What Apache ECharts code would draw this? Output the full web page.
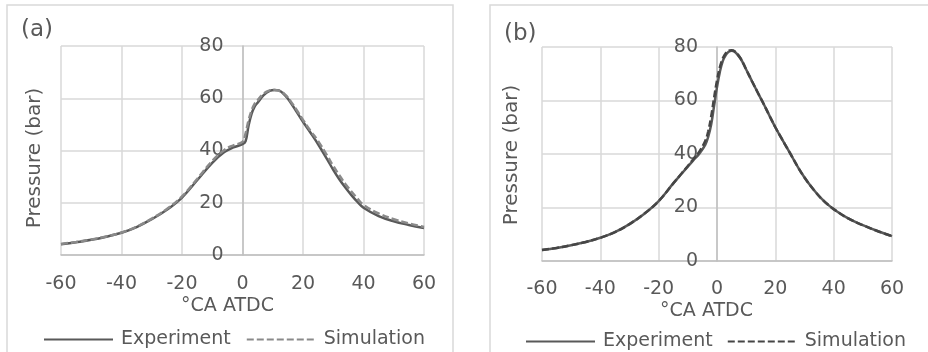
<!DOCTYPE html>
<html>
<head>
<meta charset="utf-8">
<script src="https://cdn.jsdelivr.net/npm/echarts@6/dist/echarts.min.js"></script>
<style>
  html, body { margin: 0; padding: 0; background: #fff; overflow: hidden; }
  #wrap { position: relative; width: 928px; height: 352px; }
  #chartA { position: absolute; left: 0; top: 0; width: 464px; height: 352px; }
  #chartB { position: absolute; left: 464px; top: 0; width: 464px; height: 352px; }
</style>
</head>
<body>
<div id="wrap">
  <div id="chartA"></div>
  <div id="chartB"></div>
</div>
<script>
// Crank angle (°CA ATDC) and cylinder pressure (bar), case (a)
const crankA = [-60, -55, -50, -45, -40, -35, -30, -25, -20, -15, -10, -6, -3, 0, 1, 2, 3, 4, 5, 7, 9, 10.5, 12, 14, 16, 18, 20, 22.5, 25, 28, 30, 32, 34, 36, 38, 40, 45, 50, 55, 60];
const experimentA = [4.1, 4.9, 5.8, 7.0, 8.5, 10.7, 13.7, 17.3, 22.0, 28.6, 35.3, 39.4, 41.2, 42.4, 43.5, 49.5, 54.0, 56.8, 58.3, 61.2, 62.8, 63.2, 63.0, 61.2, 58.2, 54.6, 51.0, 46.8, 42.4, 36.6, 32.6, 29.0, 25.8, 22.9, 20.3, 18.1, 14.9, 12.9, 11.5, 10.3];
const simulationA = [4.2, 5.0, 5.9, 7.1, 8.6, 10.8, 13.9, 17.6, 22.4, 29.1, 36.0, 40.2, 42.0, 43.3, 46.5, 51.5, 55.3, 57.8, 59.2, 61.8, 63.0, 63.2, 62.9, 61.5, 58.7, 55.3, 51.7, 47.5, 43.6, 38.0, 34.1, 30.5, 27.2, 24.3, 21.6, 19.2, 15.9, 13.7, 12.1, 10.7];

// Case (b)
const crankB = [-60, -55, -50, -45, -40, -35, -30, -25, -20, -15, -12, -10, -8, -6, -4, -3, -2, -1, 0, 1, 2, 3, 4, 5, 6, 8, 10, 12, 14, 16, 18, 20, 22, 25, 28, 30, 32, 34, 36, 38, 40, 45, 50, 55, 60];
const experimentB = [4.1, 4.9, 5.9, 7.1, 8.7, 10.8, 13.8, 17.6, 22.4, 29.0, 32.8, 35.3, 37.8, 40.2, 43.5, 46.5, 51.0, 58.0, 65.0, 70.8, 74.8, 77.0, 78.2, 78.6, 78.3, 75.8, 71.6, 67.2, 62.9, 58.7, 54.3, 50.0, 46.1, 40.4, 34.6, 31.2, 28.2, 25.5, 23.1, 21.1, 19.4, 15.9, 13.4, 11.2, 9.3];
const simulationB = [4.1, 4.9, 5.9, 7.1, 8.7, 10.8, 13.8, 17.6, 22.4, 29.0, 32.9, 35.5, 38.2, 41.0, 45.0, 48.5, 54.0, 61.0, 67.5, 72.5, 75.8, 77.7, 78.6, 78.8, 78.4, 75.9, 71.6, 67.2, 62.9, 58.7, 54.3, 50.0, 46.1, 40.4, 34.6, 31.2, 28.2, 25.5, 23.1, 21.1, 19.4, 15.9, 13.4, 11.2, 9.3];

// Axis ticks
const xTicks = { min: -60, max: 60, interval: 20 };
const yTicks = { min: 0, max: 80, interval: 20 };
const seriesNames = ['Experiment', 'Simulation'];
const xTitle = '°CA ATDC';
const yTitle = 'Pressure (bar)';

const FONT = "'DejaVu Sans', Verdana, sans-serif";
const TEXT = '#595959';
const GRID = '#d9d9d9';
const AXIS = '#bfbfbf';

function pairs(xs, ys) {
  return xs.map((x, i) => [x, ys[i]]);
}

function buildOption(cfg) {
  const plotW = cfg.width - cfg.grid.left - cfg.grid.right;
  return {
    animation: false,
    backgroundColor: '#fff',
    textStyle: { fontFamily: FONT, color: TEXT },
    graphic: [{
      // panel frame
      type: 'rect',
      shape: cfg.frame,
      style: { fill: 'none', stroke: GRID, lineWidth: 1.5 },
      silent: true
    }, {
      // vertical axis title
      type: 'text',
      x: cfg.yTitlePos[0],
      y: cfg.yTitlePos[1],
      rotation: Math.PI / 2,
      style: {
        text: yTitle,
        fontFamily: FONT,
        fontSize: 20,
        fill: TEXT,
        align: 'center',
        verticalAlign: 'middle'
      },
      silent: true
    }],
    title: {
      text: cfg.label,
      left: cfg.labelPos[0],
      top: cfg.labelPos[1],
      padding: 0,
      textStyle: { fontFamily: FONT, fontSize: 23, fontWeight: 'normal', color: TEXT }
    },
    grid: Object.assign({ outerBoundsMode: 'none', containLabel: false }, cfg.grid),
    legend: {
      left: cfg.legendPos[0],
      top: cfg.legendPos[1],
      padding: 0,
      itemWidth: 69,
      itemHeight: 14,
      itemGap: cfg.legendGap,
      itemStyle: { opacity: 0 },
      textStyle: { fontFamily: FONT, fontSize: 19, color: TEXT, padding: [0, 0, 0, 3] },
      data: seriesNames
    },
    xAxis: {
      type: 'value',
      min: xTicks.min, max: xTicks.max, interval: xTicks.interval,
      name: xTitle,
      nameLocation: 'middle',
      nameGap: cfg.xNameGap,
      nameMoveOverlap: false,
      nameTextStyle: { fontFamily: FONT, fontSize: 19, color: TEXT, padding: [0, cfg.xNameShift, 0, 0] },
      axisLine: { onZero: false, lineStyle: { color: AXIS, width: 1.5 } },
      axisTick: { show: false },
      axisLabel: { fontFamily: FONT, fontSize: 19, color: TEXT, margin: cfg.xLabelMargin },
      splitLine: { show: true, lineStyle: { color: GRID, width: 1.5 } }
    },
    yAxis: {
      type: 'value',
      min: yTicks.min, max: yTicks.max, interval: yTicks.interval,
      // vertical axis crosses the horizontal one at 0 °CA (centre of the range)
      offset: -plotW / 2,
      axisLine: { show: true, onZero: false, lineStyle: { color: AXIS, width: 1.5 } },
      axisTick: { show: false },
      axisLabel: { fontFamily: FONT, fontSize: 19, color: TEXT, margin: 19 },
      splitLine: { show: true, lineStyle: { color: GRID, width: 1.5 } }
    },
    series: [{
      name: seriesNames[0],
      type: 'line',
      data: pairs(cfg.crank, cfg.experiment),
      symbol: 'none',
      smooth: 0.4,
      lineStyle: { color: '#595959', width: 2.5 },
      itemStyle: { color: '#595959' }
    }, {
      name: seriesNames[1],
      type: 'line',
      data: pairs(cfg.crank, cfg.simulation),
      symbol: 'none',
      smooth: 0.4,
      lineStyle: { color: cfg.simColor, width: 2.5, type: [7, 3] },
      itemStyle: { color: cfg.simColor }
    }]
  };
}

const chartA = echarts.init(document.getElementById('chartA'), null, { renderer: 'canvas' });
chartA.setOption(buildOption({
  width: 464,
  label: '(a)',
  labelPos: [21, 19],
  frame: { x: 7, y: 5, width: 446, height: 400 },
  grid: { left: 61, right: 40, top: 46, bottom: 97 },
  legendPos: [43, 330],
  legendGap: 15,
  xLabelMargin: 20,
  xNameGap: 42,
  xNameShift: 30,
  yTitlePos: [35, 158],
  crank: crankA,
  experiment: experimentA,
  simulation: simulationA,
  simColor: '#8a8a8a'
}));

const chartB = echarts.init(document.getElementById('chartB'), null, { renderer: 'canvas' });
chartB.setOption(buildOption({
  width: 464,
  label: '(b)',
  labelPos: [40, 23],
  frame: { x: 26, y: 5, width: 500, height: 400 },
  grid: { left: 78, right: 36, top: 47, bottom: 91 },
  legendPos: [61, 332],
  legendGap: 14,
  xLabelMargin: 19,
  xNameGap: 41,
  xNameShift: 21,
  yTitlePos: [48, 155],
  crank: crankB,
  experiment: experimentB,
  simulation: simulationB,
  simColor: '#454545'
}));
</script>
</body>
</html>
